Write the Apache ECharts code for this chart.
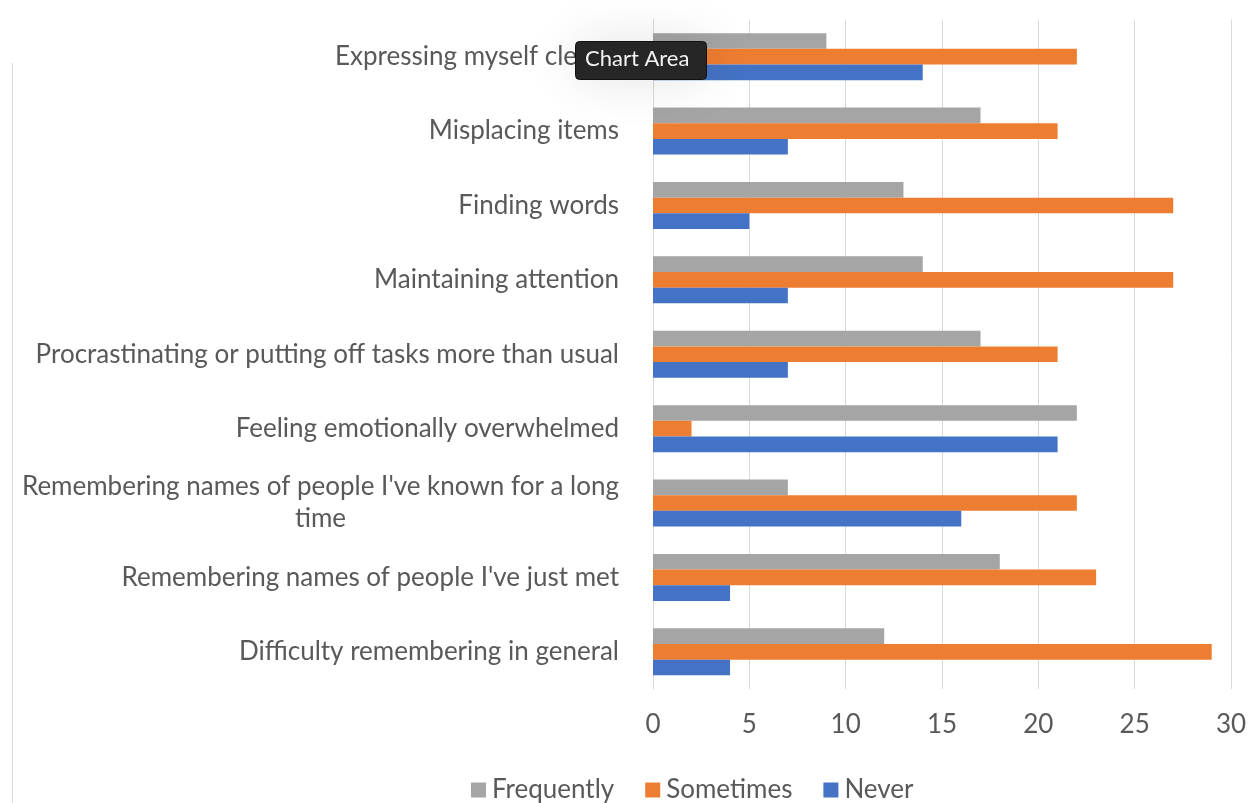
<!DOCTYPE html>
<html>
<head>
<meta charset="utf-8">
<script src="https://cdn.jsdelivr.net/npm/echarts@6/dist/echarts.min.js"></script>
<style>
html,body{margin:0;padding:0;background:#fff;}
#chart{width:1250px;height:803px;}
</style>
</head>
<body>
<div id="chart"></div>
<script>
const categories = [
  "Expressing myself clearly",
  "Misplacing items",
  "Finding words",
  "Maintaining attention",
  "Procrastinating or putting off tasks more than usual",
  "Feeling emotionally overwhelmed",
  "Remembering names of people I've known for a long time",
  "Remembering names of people I've just met",
  "Difficulty remembering in general"
];
const frequently = [9, 17, 13, 14, 17, 22, 7, 18, 12];
const sometimes  = [22, 21, 27, 27, 21, 2, 22, 23, 29];
const never      = [14, 7, 5, 7, 7, 21, 16, 4, 4];
const xTicks = [0, 5, 10, 15, 20, 25, 30];

const FONT = 'Lato, "Open Sans", sans-serif';
const FS = 26;
const chart = echarts.init(document.getElementById('chart'), null, {renderer: 'canvas'});

const measureCtx = document.createElement('canvas').getContext('2d');
measureCtx.font = FS + 'px ' + FONT;
function wrapLabel(s) {
  const maxW = 615;
  const words = s.split(' ');
  const lines = [];
  let cur = '';
  for (const w of words) {
    const t = cur ? cur + ' ' + w : w;
    if (cur && measureCtx.measureText(t).width > maxW) { lines.push(cur); cur = w; }
    else cur = t;
  }
  lines.push(cur);
  return lines.map(l => '{c|' + l + '}').join('\n');
}

chart.setOption({
  animation: false,
  backgroundColor: '#ffffff',
  textStyle: {fontFamily: FONT},
  grid: {left: 653, right: 19, top: 19.5, bottom: 114, containLabel: false},
  legend: {
    data: ['Frequently', 'Sometimes', 'Never'],
    left: 466, top: 772,
    itemWidth: 15, itemHeight: 15, itemGap: 31,
    icon: 'rect',
    textStyle: {fontFamily: FONT, fontSize: FS, color: '#595959', padding: [0, 0, 0, 1]}
  },
  xAxis: {
    type: 'value', min: xTicks[0], max: xTicks[xTicks.length - 1], interval: 5,
    axisLine: {show: false}, axisTick: {show: false},
    splitLine: {show: true, lineStyle: {color: '#d9d9d9', width: 1}},
    axisLabel: {fontFamily: FONT, fontSize: FS, color: '#595959', margin: 23}
  },
  yAxis: {
    type: 'category', data: categories, inverse: true,
    axisLine: {show: true, lineStyle: {color: '#d9d9d9', width: 1}},
    axisTick: {show: false},
    axisLabel: {
      margin: 34, color: '#595959', fontFamily: FONT, fontSize: FS, lineHeight: 32,
      formatter: wrapLabel,
      rich: {c: {fontFamily: FONT, fontSize: FS, color: '#595959', align: 'center', lineHeight: 32}}
    }
  },
  series: [
    {name: 'Frequently', type: 'bar', data: frequently, barGap: '0%', barCategoryGap: '36.8%',
     itemStyle: {color: '#a5a5a5'}},
    {name: 'Sometimes', type: 'bar', data: sometimes, barGap: '0%', barCategoryGap: '36.8%',
     itemStyle: {color: '#ed7d31'}},
    {name: 'Never', type: 'bar', data: never, barGap: '0%', barCategoryGap: '36.8%',
     itemStyle: {color: '#4472c4'}}
  ],
  graphic: [
    {type: 'line', shape: {x1: 12.5, y1: 63, x2: 12.5, y2: 803}, style: {stroke: '#d9d9d9', lineWidth: 1}, z: 1},
    {type: 'rect', left: 575, top: 41, z: 1000, zlevel: 1, shape: {width: 131, height: 38, r: 4},
     style: {fill: '#262626', stroke: '#111', lineWidth: 1, shadowBlur: 50, shadowColor: 'rgba(0,0,0,0.12)'}},
    {type: 'text', left: 585, top: 48, z: 1001, zlevel: 1,
     style: {text: 'Chart Area', fill: '#f2f2f2', font: '22px Lato, "Open Sans", sans-serif'}}
  ]
});
</script>
</body>
</html>
